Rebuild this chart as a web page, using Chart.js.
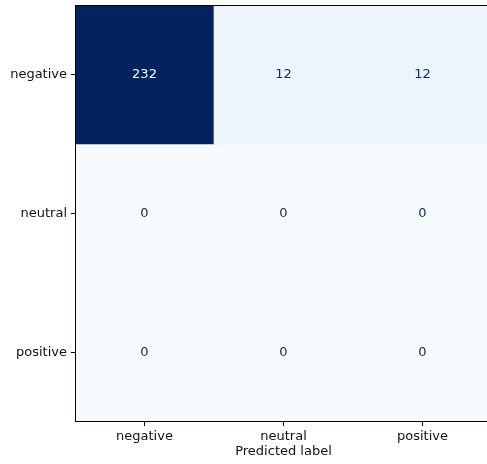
<!DOCTYPE html>
<html>
<head>
<meta charset="utf-8">
<script src="https://cdn.jsdelivr.net/npm/chart.js@4.4.1/dist/chart.umd.min.js"></script>
<style>
  html, body { margin: 0; padding: 0; background: #fff; overflow: hidden; }
  canvas { display: block; }
</style>
</head>
<body>
<canvas id="cm" width="500" height="464" style="width:500px;height:464px"></canvas>
<script>
// Class names shared by both axes
const classLabels = ['negative', 'neutral', 'positive'];
// Confusion-matrix counts, one array per true class (rows)
const rowNegative = [232, 12, 12];
const rowNeutral = [0, 0, 0];
const rowPositive = [0, 0, 0];
const matrixRows = [rowNegative, rowNeutral, rowPositive];
const xTitle = 'Predicted label';

const FONT = 'DejaVu Sans';
const FONT_SIZE = 13;
const maxCount = Math.max(...matrixRows.flat());

// Sequential "Blues" colour map
const bluesStops = [
  [247, 251, 255], [222, 235, 247], [198, 219, 239], [158, 202, 225],
  [107, 174, 214], [66, 146, 198], [33, 113, 181], [8, 81, 156], [2, 34, 96]
];
function blues(t) {
  t = Math.min(1, Math.max(0, t));
  const pos = t * (bluesStops.length - 1);
  const i = Math.min(bluesStops.length - 2, Math.floor(pos));
  const f = pos - i;
  const a = bluesStops[i], b = bluesStops[i + 1];
  const c = a.map((v, k) => Math.round(v + (b[k] - v) * f));
  return `rgb(${c[0]},${c[1]},${c[2]})`;
}

// Each row becomes a dataset of floating bars spanning [row-0.5, row+0.5]
const datasets = matrixRows.map((row, r) => ({
  label: classLabels[r],
  data: row.map(() => [r - 0.5, r + 0.5]),
  counts: row,
  backgroundColor: row.map(v => blues(v / maxCount)),
  borderWidth: 0,
  barPercentage: 1,
  categoryPercentage: 1,
  grouped: false
}));

// Cell annotations and the frame around the plot
const cellText = {
  id: 'cellText',
  afterDatasetsDraw(chart) {
    const ctx = chart.ctx;
    ctx.save();
    ctx.font = `${FONT_SIZE}px "${FONT}"`;
    ctx.textAlign = 'center';
    ctx.textBaseline = 'middle';
    chart.data.datasets.forEach((ds, di) => {
      chart.getDatasetMeta(di).data.forEach((el, i) => {
        const v = ds.counts[i];
        const p = el.getCenterPoint();
        ctx.fillStyle = v > maxCount / 2 ? '#f7fbff' : '#08306b';
        ctx.fillText(String(v), p.x, p.y);
      });
    });
    ctx.restore();
  },
  afterDraw(chart) {
    const a = chart.chartArea;
    const ctx = chart.ctx;
    ctx.save();
    ctx.strokeStyle = '#000';
    ctx.lineWidth = 1;
    ctx.strokeRect(a.left + 0.5, a.top + 0.5, a.right - a.left - 1, a.bottom - a.top - 1);
    ctx.restore();
  }
};

new Chart(document.getElementById('cm'), {
  type: 'bar',
  data: { labels: classLabels, datasets },
  plugins: [cellText],
  options: {
    responsive: false,
    animation: false,
    devicePixelRatio: 1,
    layout: { padding: { left: 0, top: 5, right: 8, bottom: 0 } },
    plugins: { legend: { display: false }, tooltip: { enabled: false } },
    scales: {
      x: {
        type: 'category',
        offset: true,
        grid: { display: true, drawOnChartArea: false, offset: false, tickLength: 4, tickColor: '#000', lineWidth: 1 },
        border: { display: false },
        ticks: { color: '#111', font: { family: FONT, size: FONT_SIZE }, padding: 3, maxRotation: 0 },
        title: { display: true, text: xTitle, color: '#111', font: { family: FONT, size: FONT_SIZE }, padding: { top: 0, bottom: 5 } },
        afterFit(scale) { scale.height = 42; scale.paddingLeft = 0; scale.paddingRight = 0; }
      },
      y: {
        type: 'linear',
        reverse: true,
        min: -0.5,
        max: 2.5,
        afterBuildTicks(scale) { scale.ticks = classLabels.map((_, i) => ({ value: i })); },
        grid: { display: true, drawOnChartArea: false, tickLength: 4, tickColor: '#000', lineWidth: 1 },
        border: { display: false },
        ticks: {
          color: '#111',
          font: { family: FONT, size: FONT_SIZE },
          padding: 4,
          callback: (v) => classLabels[v] ?? ''
        },
        afterFit(scale) { scale.width = 75; scale.paddingTop = 0; scale.paddingBottom = 0; }
      }
    }
  }
});
</script>
</body>
</html>
